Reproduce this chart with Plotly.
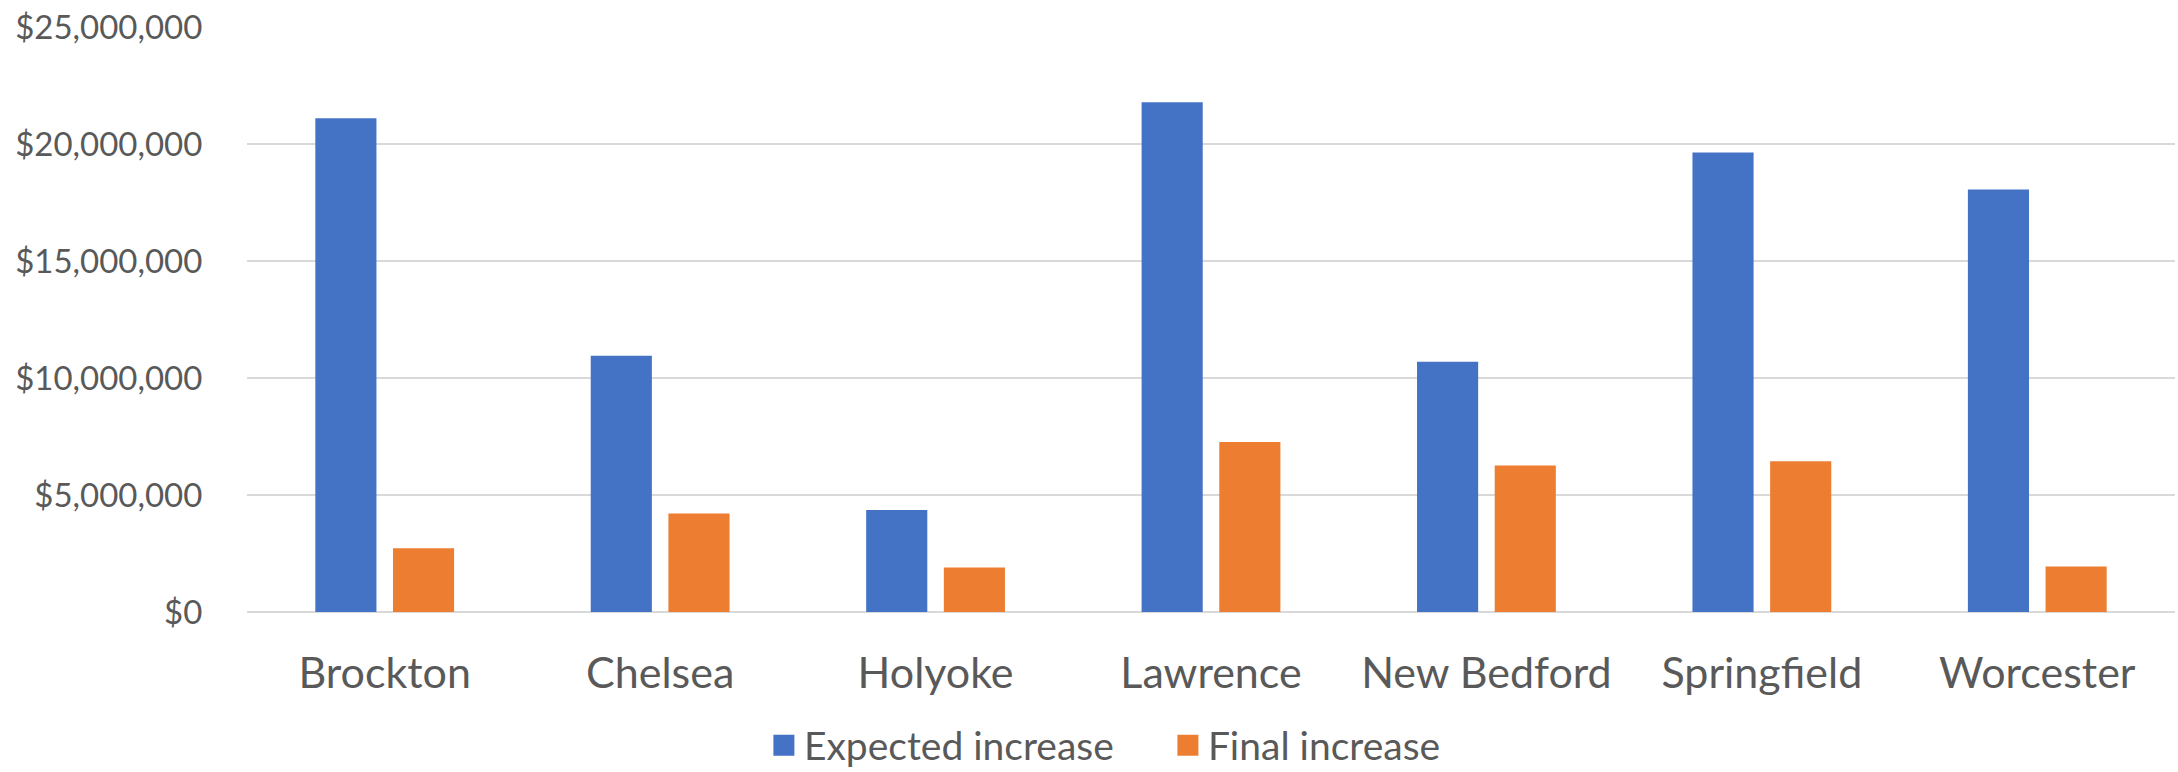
import plotly.graph_objects as go

# City-level funding increases
cities = ["Brockton", "Chelsea", "Holyoke", "Lawrence", "New Bedford", "Springfield", "Worcester"]
expected_increase = [21_100_000, 10_950_000, 4_360_000, 21_780_000, 10_690_000, 19_640_000, 18_060_000]
final_increase = [2_720_000, 4_210_000, 1_900_000, 7_260_000, 6_260_000, 6_440_000, 1_940_000]

y_ticks = [0, 5_000_000, 10_000_000, 15_000_000, 20_000_000, 25_000_000]

BLUE = "#4472C4"
ORANGE = "#ED7D31"
TEXT = "#595959"
GRID = "#D9D9D9"
FONT = "Lato"

fig = go.Figure()
fig.add_trace(go.Bar(name="Expected increase", x=cities, y=expected_increase,
                     marker=dict(color=BLUE, line=dict(width=0)), showlegend=False))
fig.add_trace(go.Bar(name="Final increase", x=cities, y=final_increase,
                     marker=dict(color=ORANGE, line=dict(width=0)), showlegend=False))

# Legend entries with larger square swatches
for name, color in [("Expected increase", BLUE), ("Final increase", ORANGE)]:
    fig.add_trace(go.Scatter(x=[None], y=[None], mode="markers", name=name,
                             marker=dict(symbol="square", size=16, color=color,
                                         line=dict(color=color, width=7)),
                             showlegend=True))

fig.update_layout(
    width=2178, height=772,
    margin=dict(l=247, r=3, t=27, b=160, pad=0, autoexpand=False),
    paper_bgcolor="white", plot_bgcolor="white",
    barmode="group", bargap=0.436, bargroupgap=0.213,
    font=dict(family=FONT, color=TEXT),
    legend=dict(orientation="h", x=0.2681, xanchor="left", y=-0.228, yanchor="middle",
                font=dict(size=39, color=TEXT, family=FONT), itemsizing="trace",
                entrywidth=359, entrywidthmode="pixels",
                bgcolor="rgba(0,0,0,0)"),
    xaxis=dict(type="category", showgrid=False, showline=False, zeroline=False,
               ticks="outside", ticklen=23, tickcolor="rgba(0,0,0,0)",
               tickfont=dict(size=43, color=TEXT, family=FONT)),
    yaxis=dict(range=[0, 25_000_000], tickvals=y_ticks, tickformat="$,.0f",
               showgrid=True, gridcolor=GRID, gridwidth=2,
               zeroline=True, zerolinecolor=GRID, zerolinewidth=2,
               showline=False, ticks="outside", ticklen=37, tickcolor="rgba(0,0,0,0)",
               tickfont=dict(size=33, color=TEXT, family=FONT)),
)

fig.write_html("out.html")
